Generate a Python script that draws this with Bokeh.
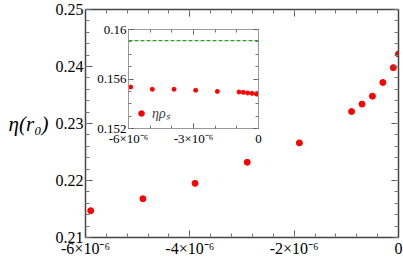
import numpy as np
from bokeh.plotting import figure
from bokeh.models import Range1d, FixedTicker, LinearAxis, Span, Legend, LegendItem, GridBox
from bokeh.embed import file_html
from bokeh.resources import INLINE

# ---------------- data ----------------
x_vals = [-5.9e-6, -4.9e-6, -3.9e-6, -2.9e-6, -1.9e-6, -0.9e-6, -0.7e-6, -0.5e-6, -0.3e-6, -0.1e-6, 0.0]
eta_r0 = [0.2147, 0.2168, 0.2195, 0.2232, 0.2266, 0.2321, 0.2334, 0.2348, 0.2372, 0.2398, 0.2422]
eta_rho_s = [0.15535, 0.15517, 0.15517, 0.15509, 0.15500, 0.15495, 0.15492, 0.15487, 0.15484, 0.15479, 0.15476]
ref_level = 0.1591

main_x_ticks = [-6e-6, -4e-6, -2e-6, 0.0]
main_x_labels = ["-6×10⁻⁶", "-4×10⁻⁶", "-2×10⁻⁶", "0"]
main_y_ticks = [0.21, 0.22, 0.23, 0.24, 0.25]
main_y_labels = ["0.21", "0.22", "0.23", "0.24", "0.25"]
inset_x_ticks = [-6e-6, -3e-6, 0.0]
inset_x_labels = ["-6×10⁻⁶", "-3×10⁻⁶", "0"]
inset_y_ticks = [0.152, 0.156, 0.16]
inset_y_labels = ["0.152", "0.156", "0.16"]

FONT = "Liberation Serif"


def style_axis(ax, major, minor, labels=None, show=True, size="16px", major_in=7, minor_in=4,
               line_color="#444444", line_width=1.5, font=FONT):
    ax.ticker = FixedTicker(ticks=major, minor_ticks=minor)
    ax.major_tick_in = major_in
    ax.major_tick_out = 0
    ax.minor_tick_in = minor_in
    ax.minor_tick_out = 0
    ax.axis_line_color = line_color
    ax.axis_line_width = line_width
    ax.major_tick_line_color = "#555555"
    ax.minor_tick_line_color = "#777777"
    ax.major_label_text_font = font
    ax.major_label_text_font_size = size
    ax.major_label_text_color = "black"
    ax.major_label_standoff = 2
    if labels is not None:
        ax.major_label_overrides = labels
    if not show:
        ax.major_label_text_alpha = 0
        ax.major_label_text_font_size = "1px"
        ax.major_label_standoff = 0


# borders shared by both plots (the grid aligns plot frames)
BL, BR, BT, BB = 85, 5, 9, 23

# ---------------- main figure ----------------
p = figure(width=403, height=260, x_range=Range1d(-6e-6, 0), y_range=Range1d(0.21, 0.25),
           output_backend="svg", toolbar_location=None,
           min_border_left=BL, min_border_right=BR, min_border_top=BT, min_border_bottom=BB)
p.grid.visible = False
p.outline_line_color = None
p.background_fill_color = "white"

mx_minor = list(np.round(np.arange(-6e-6, 1e-12, 0.4e-6), 12))
my_minor = list(np.round(np.arange(0.21, 0.25 + 1e-9, 0.002), 6))

style_axis(p.xaxis[0], main_x_ticks, mx_minor, dict(zip(main_x_ticks, main_x_labels)))
ly = p.yaxis[0]
style_axis(ly, main_y_ticks, my_minor, dict(zip(main_y_ticks, main_y_labels)))
ly.axis_label = "η(r₀)"
ly.axis_label_orientation = "horizontal"
ly.axis_label_text_font = FONT
ly.axis_label_text_font_style = "italic"
ly.axis_label_text_font_size = "21px"
ly.axis_label_text_color = "black"
ly.axis_label_standoff = 4

ax_r = LinearAxis()
style_axis(ax_r, main_y_ticks, my_minor, show=False)
p.add_layout(ax_r, "right")
ax_t = LinearAxis()
style_axis(ax_t, main_x_ticks, mx_minor, show=False)
p.add_layout(ax_t, "above")

p.scatter(x_vals, eta_r0, size=6, color="#ff0000")

# ---------------- inset figure ----------------
pi = figure(width=BL + 130 + BR, height=BT + 99 + BB, x_range=Range1d(-6e-6, 0), y_range=Range1d(0.152, 0.16),
            output_backend="svg", toolbar_location=None,
            min_border_left=BL, min_border_right=BR, min_border_top=BT, min_border_bottom=BB)
pi.grid.visible = False
pi.outline_line_color = None
pi.background_fill_color = "white"
pi.border_fill_alpha = 0

ix_minor = list(np.round(np.arange(-6e-6, 1e-12, 1e-6), 12))
iy_minor = list(np.round(np.arange(0.152, 0.16 + 1e-9, 0.001), 6))
INSET_LINE = "#999999"
style_axis(pi.xaxis[0], inset_x_ticks, ix_minor, dict(zip(inset_x_ticks, inset_x_labels)), size="13px",
           major_in=5, minor_in=3, line_color=INSET_LINE, line_width=1)
style_axis(pi.yaxis[0], inset_y_ticks, iy_minor, dict(zip(inset_y_ticks, inset_y_labels)), size="13px",
           major_in=5, minor_in=3, line_color=INSET_LINE, line_width=1)
ir = LinearAxis()
style_axis(ir, inset_y_ticks, iy_minor, show=False, major_in=5, minor_in=3, line_color=INSET_LINE, line_width=1)
pi.add_layout(ir, "right")
it = LinearAxis()
style_axis(it, inset_x_ticks, ix_minor, show=False, major_in=5, minor_in=3, line_color=INSET_LINE, line_width=1)
pi.add_layout(it, "above")

pi.add_layout(Span(location=ref_level, dimension="width", line_color="#2ca02c",
                   line_dash="4 2", line_width=1.2))
r_in = pi.scatter(x_vals, eta_rho_s, size=4, color="#ff0000")

leg = Legend(items=[LegendItem(label="ηρₛ", renderers=[r_in])], location="bottom_left",
             border_line_alpha=0, background_fill_alpha=0, label_text_font=FONT,
             label_text_font_style="italic", label_text_font_size="14px",
             glyph_width=14, glyph_height=14, padding=2, margin=4, label_standoff=4)
pi.add_layout(leg)

pi.margin = (29 - BT, 0, 0, 43)

grid = GridBox(children=[(p, 0, 0), (pi, 0, 0)])

open("out.html", "w").write(file_html(grid, INLINE))
